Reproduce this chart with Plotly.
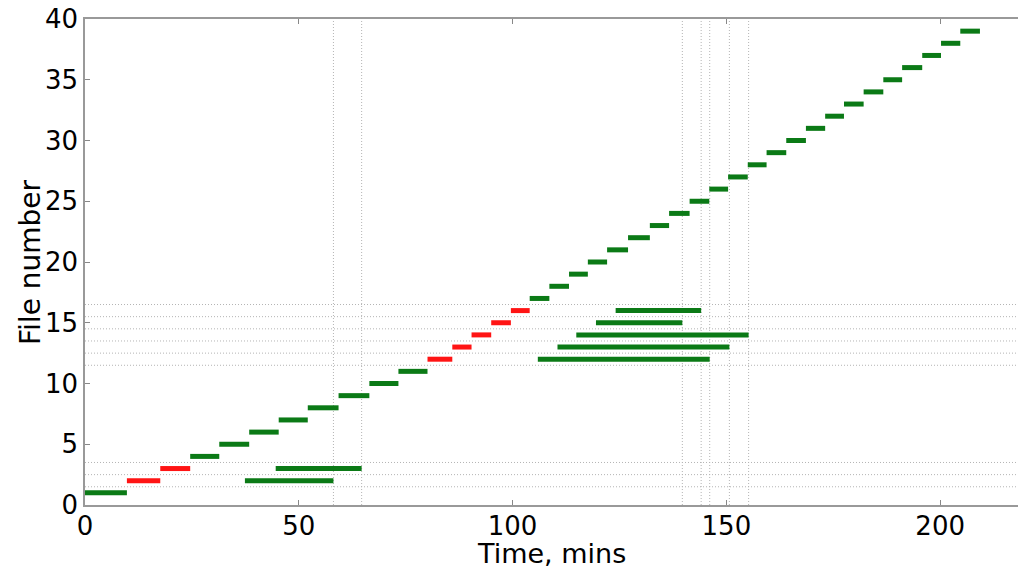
import plotly.graph_objects as go

# ---- data ----
file_ids = list(range(1, 40))
starts = [0.0, 9.8, 17.6, 24.6, 31.4, 38.4, 45.3, 52.1, 59.3, 66.5,
          73.3, 80.1, 85.9, 90.4, 95.0, 99.6, 104.0, 108.6, 113.2, 117.6,
          122.1, 127.0, 132.1, 136.6, 141.4, 146.0, 150.4, 155.0, 159.4, 164.0,
          168.6, 173.1, 177.5, 182.1, 186.7, 191.1, 195.8, 200.2, 204.7]
ends = starts[1:] + [209.3]
failed = [2, 3, 12, 13, 14, 15, 16]

retry_ids = [2, 3, 12, 13, 14, 15, 16]
retry_starts = [37.4, 44.6, 105.9, 110.5, 114.9, 119.5, 124.1]
retry_ends = [58.1, 64.7, 146.1, 150.7, 155.2, 139.7, 144.1]

x_ticks = [0, 50, 100, 150, 200]
y_ticks = [0, 5, 10, 15, 20, 25, 30, 35, 40]

GREEN = "#0b7a16"
RED = "#ff1414"
FONT = "DejaVu Sans"
DOT = dict(color="#b4b4b4", width=1, dash="1px,2px")

fig = go.Figure()

def segs(ids, s, e, keep):
    xs, ys = [], []
    for i, a, b in zip(ids, s, e):
        if keep(i):
            xs += [a, b, None]
            ys += [i, i, None]
    return xs, ys

# reference dotted lines derived from retried files
shapes = []
for i, e in zip(retry_ids, retry_ends):
    shapes.append(dict(type="line", xref="x", yref="paper", x0=e, x1=e, y0=0, y1=1,
                       line=DOT, layer="below"))
hlines = sorted(set([i - 0.5 for i in retry_ids] + [i + 0.5 for i in retry_ids]))
for h in hlines:
    shapes.append(dict(type="line", xref="paper", yref="y", x0=0, x1=1, y0=h, y1=h,
                       line=DOT, layer="below"))

gx, gy = segs(file_ids, starts, ends, lambda i: i not in failed)
rx, ry = segs(file_ids, starts, ends, lambda i: i in failed)
tx, ty = segs(retry_ids, retry_starts, retry_ends, lambda i: True)

fig.add_trace(go.Scatter(x=gx, y=gy, mode="lines", line=dict(color=GREEN, width=5),
                         showlegend=False, hoverinfo="skip"))
fig.add_trace(go.Scatter(x=rx, y=ry, mode="lines", line=dict(color=RED, width=5),
                         showlegend=False, hoverinfo="skip"))
fig.add_trace(go.Scatter(x=tx, y=ty, mode="lines", line=dict(color=GREEN, width=5),
                         showlegend=False, hoverinfo="skip"))

fig.update_layout(
    width=1018, height=569,
    margin=dict(l=85, r=0, t=19, b=64),
    plot_bgcolor="white", paper_bgcolor="white",
    shapes=shapes,
    font=dict(family=FONT, size=26, color="black"),
    xaxis=dict(range=[0, 218.2], tickvals=x_ticks, ticks="inside", ticklen=5,
               tickcolor="#888888", showline=True, linecolor="#999999", linewidth=1.5,
               mirror="ticks", showgrid=False, zeroline=False, ticklabelstandoff=-3,
               tickfont=dict(family=FONT, size=26)),
    yaxis=dict(range=[0, 40], tickvals=y_ticks, ticks="inside", ticklen=5,
               tickcolor="#888888", showline=True, linecolor="#999999", linewidth=1.5,
               showgrid=False, zeroline=False,
               tickfont=dict(family=FONT, size=26)),
    annotations=[
        dict(text="Time, mins", xref="paper", yref="paper", x=0.5, y=0,
             xanchor="center", yanchor="top", yshift=-31, showarrow=False,
             font=dict(family=FONT, size=27)),
        dict(text="File number", xref="paper", yref="paper", x=0, y=0.5,
             xanchor="center", yanchor="middle", xshift=-55, textangle=-90,
             showarrow=False, font=dict(family=FONT, size=28)),
    ],
)

fig.write_html("out.html")
